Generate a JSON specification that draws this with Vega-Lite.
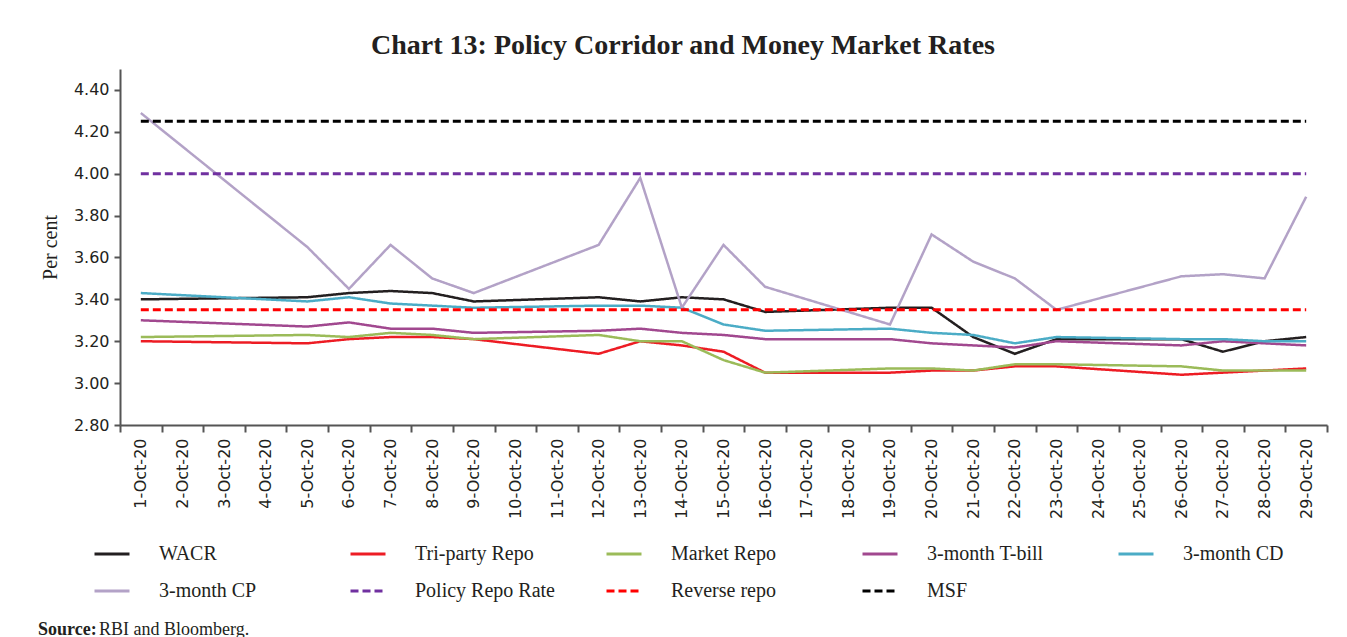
{
  "$schema": "https://vega.github.io/schema/vega-lite/v6.json",
  "width": 1207,
  "height": 356,
  "autosize": {"type": "pad"},
  "padding": {"left": 38, "top": 32, "right": 21, "bottom": 0},
  "background": "white",
  "config": {"view": {"stroke": null}, "font": "Liberation Serif"},
  "title": {
    "text": "Chart 13: Policy Corridor and Money Market Rates",
    "font": "Liberation Serif",
    "fontSize": 28,
    "fontWeight": "bold",
    "color": "#231f20",
    "anchor": "middle",
    "frame": "bounds",
    "offset": 9
  },
  "datasets": {
    "rates": [
      {"date": "1-Oct-20", "WACR": 3.40, "Tri-party Repo": 3.20, "Market Repo": 3.22, "3-month T-bill": 3.30, "3-month CD": 3.43, "3-month CP": 4.29},
      {"date": "5-Oct-20", "WACR": 3.41, "Tri-party Repo": 3.19, "Market Repo": 3.23, "3-month T-bill": 3.27, "3-month CD": 3.39, "3-month CP": 3.65},
      {"date": "6-Oct-20", "WACR": 3.43, "Tri-party Repo": 3.21, "Market Repo": 3.22, "3-month T-bill": 3.29, "3-month CD": 3.41, "3-month CP": 3.45},
      {"date": "7-Oct-20", "WACR": 3.44, "Tri-party Repo": 3.22, "Market Repo": 3.24, "3-month T-bill": 3.26, "3-month CD": 3.38, "3-month CP": 3.66},
      {"date": "8-Oct-20", "WACR": 3.43, "Tri-party Repo": 3.22, "Market Repo": 3.23, "3-month T-bill": 3.26, "3-month CD": 3.37, "3-month CP": 3.50},
      {"date": "9-Oct-20", "WACR": 3.39, "Tri-party Repo": 3.21, "Market Repo": 3.21, "3-month T-bill": 3.24, "3-month CD": 3.36, "3-month CP": 3.43},
      {"date": "12-Oct-20", "WACR": 3.41, "Tri-party Repo": 3.14, "Market Repo": 3.23, "3-month T-bill": 3.25, "3-month CD": 3.37, "3-month CP": 3.66},
      {"date": "13-Oct-20", "WACR": 3.39, "Tri-party Repo": 3.20, "Market Repo": 3.20, "3-month T-bill": 3.26, "3-month CD": 3.37, "3-month CP": 3.98},
      {"date": "14-Oct-20", "WACR": 3.41, "Tri-party Repo": 3.18, "Market Repo": 3.20, "3-month T-bill": 3.24, "3-month CD": 3.36, "3-month CP": 3.36},
      {"date": "15-Oct-20", "WACR": 3.40, "Tri-party Repo": 3.15, "Market Repo": 3.11, "3-month T-bill": 3.23, "3-month CD": 3.28, "3-month CP": 3.66},
      {"date": "16-Oct-20", "WACR": 3.34, "Tri-party Repo": 3.05, "Market Repo": 3.05, "3-month T-bill": 3.21, "3-month CD": 3.25, "3-month CP": 3.46},
      {"date": "19-Oct-20", "WACR": 3.36, "Tri-party Repo": 3.05, "Market Repo": 3.07, "3-month T-bill": 3.21, "3-month CD": 3.26, "3-month CP": 3.28},
      {"date": "20-Oct-20", "WACR": 3.36, "Tri-party Repo": 3.06, "Market Repo": 3.07, "3-month T-bill": 3.19, "3-month CD": 3.24, "3-month CP": 3.71},
      {"date": "21-Oct-20", "WACR": 3.22, "Tri-party Repo": 3.06, "Market Repo": 3.06, "3-month T-bill": 3.18, "3-month CD": 3.23, "3-month CP": 3.58},
      {"date": "22-Oct-20", "WACR": 3.14, "Tri-party Repo": 3.08, "Market Repo": 3.09, "3-month T-bill": 3.17, "3-month CD": 3.19, "3-month CP": 3.50},
      {"date": "23-Oct-20", "WACR": 3.21, "Tri-party Repo": 3.08, "Market Repo": 3.09, "3-month T-bill": 3.20, "3-month CD": 3.22, "3-month CP": 3.35},
      {"date": "26-Oct-20", "WACR": 3.21, "Tri-party Repo": 3.04, "Market Repo": 3.08, "3-month T-bill": 3.18, "3-month CD": 3.21, "3-month CP": 3.51},
      {"date": "27-Oct-20", "WACR": 3.15, "Tri-party Repo": 3.05, "Market Repo": 3.06, "3-month T-bill": 3.20, "3-month CD": 3.21, "3-month CP": 3.52},
      {"date": "28-Oct-20", "WACR": 3.20, "Tri-party Repo": 3.06, "Market Repo": 3.06, "3-month T-bill": 3.19, "3-month CD": 3.20, "3-month CP": 3.50},
      {"date": "29-Oct-20", "WACR": 3.22, "Tri-party Repo": 3.07, "Market Repo": 3.06, "3-month T-bill": 3.18, "3-month CD": 3.20, "3-month CP": 3.89}
    ],
    "corridor": [
      {"date": "1-Oct-20", "Policy Repo Rate": 4.00, "Reverse repo": 3.35, "MSF": 4.25},
      {"date": "29-Oct-20", "Policy Repo Rate": 4.00, "Reverse repo": 3.35, "MSF": 4.25}
    ],
    "source": [
      {"src": "RBI and Bloomberg."}
    ]
  },
  "layer": [
    {
      "data": {"name": "rates"},
      "transform": [
        {"fold": ["WACR", "Tri-party Repo", "Market Repo", "3-month T-bill", "3-month CD", "3-month CP"], "as": ["series", "value"]}
      ],
      "mark": {"type": "line", "strokeWidth": 2.5},
      "encoding": {
        "x": {
          "field": "date", "type": "ordinal", "bandPosition": 0.5,
          "scale": {"type": "band", "paddingInner": 0, "paddingOuter": 0,
            "domain": ["1-Oct-20","2-Oct-20","3-Oct-20","4-Oct-20","5-Oct-20","6-Oct-20","7-Oct-20","8-Oct-20","9-Oct-20","10-Oct-20","11-Oct-20","12-Oct-20","13-Oct-20","14-Oct-20","15-Oct-20","16-Oct-20","17-Oct-20","18-Oct-20","19-Oct-20","20-Oct-20","21-Oct-20","22-Oct-20","23-Oct-20","24-Oct-20","25-Oct-20","26-Oct-20","27-Oct-20","28-Oct-20","29-Oct-20"]},
          "axis": {"title": null, "labelAngle": -90, "labelFont": "DejaVu Sans", "labelFontSize": 16, "labelColor": "#231f20",
            "tickBand": "extent", "tickSize": 7, "tickColor": "#555555", "domainColor": "#555555", "domainWidth": 2, "tickWidth": 2,
            "labelPadding": 6, "grid": false}
        },
        "y": {
          "field": "value", "type": "quantitative",
          "scale": {"domain": [2.8, 4.5], "nice": false, "zero": false},
          "axis": {"title": "Per cent", "titleFont": "Liberation Serif", "titleFontSize": 20, "titleFontWeight": "normal", "titleColor": "#231f20",
            "titlePadding": 13,
            "values": [2.8, 3.0, 3.2, 3.4, 3.6, 3.8, 4.0, 4.2, 4.4], "format": ".2f",
            "labelFont": "DejaVu Sans", "labelFontSize": 16, "labelColor": "#231f20", "labelPadding": 5,
            "tickSize": 6, "tickColor": "#555555", "domainColor": "#555555", "domainWidth": 2, "tickWidth": 2, "grid": false}
        },
        "color": {
          "field": "series", "type": "nominal",
          "scale": {
            "domain": ["WACR", "Tri-party Repo", "Market Repo", "3-month T-bill", "3-month CD", "3-month CP", "Policy Repo Rate", "Reverse repo", "MSF"],
            "range": ["#231f20", "#ed1c24", "#9bbb59", "#a1488f", "#4bacc6", "#b3a2c7", "#7030a0", "#ff0000", "#000000"]
          },
          "legend": {
            "orient": "none", "legendX": -27, "legendY": 466, "columns": 5, "direction": "horizontal", "title": null,
            "gridAlign": "all", "symbolType": "stroke", "symbolSize": 1225, "symbolStrokeWidth": 3,
            "labelFont": "Liberation Serif", "labelFontSize": 20, "labelColor": "#231f20", "labelOffset": 28, "labelLimit": 300,
            "columnPadding": 45, "rowPadding": 8
          }
        },
        "strokeDash": {
          "field": "series", "type": "nominal",
          "scale": {
            "domain": ["WACR", "Tri-party Repo", "Market Repo", "3-month T-bill", "3-month CD", "3-month CP", "Policy Repo Rate", "Reverse repo", "MSF"],
            "range": [[1, 0], [1, 0], [1, 0], [1, 0], [1, 0], [1, 0], [8, 4], [8, 4], [8, 4]]
          }
        }
      }
    },
    {
      "data": {"name": "corridor"},
      "transform": [
        {"fold": ["Policy Repo Rate", "Reverse repo", "MSF"], "as": ["series", "value"]}
      ],
      "mark": {"type": "line", "strokeWidth": 3},
      "encoding": {
        "x": {"field": "date", "type": "ordinal", "bandPosition": 0.5},
        "y": {"field": "value", "type": "quantitative"},
        "color": {"field": "series", "type": "nominal"},
        "strokeDash": {"field": "series", "type": "nominal"}
      }
    },
    {
      "data": {"name": "source"},
      "mark": {"type": "point", "opacity": 0},
      "encoding": {
        "shape": {
          "field": "src", "type": "nominal",
          "legend": {
            "orient": "none", "legendX": -82, "legendY": 552, "title": "Source:", "titleOrient": "left",
            "titleFont": "Liberation Serif", "titleFontSize": 18, "titleFontWeight": "bold", "titleColor": "#231f20", "titlePadding": -16,
            "symbolSize": 0, "symbolOpacity": 0, "labelOffset": 0,
            "labelFont": "Liberation Serif", "labelFontSize": 18, "labelColor": "#231f20"
          }
        }
      }
    }
  ]
}
